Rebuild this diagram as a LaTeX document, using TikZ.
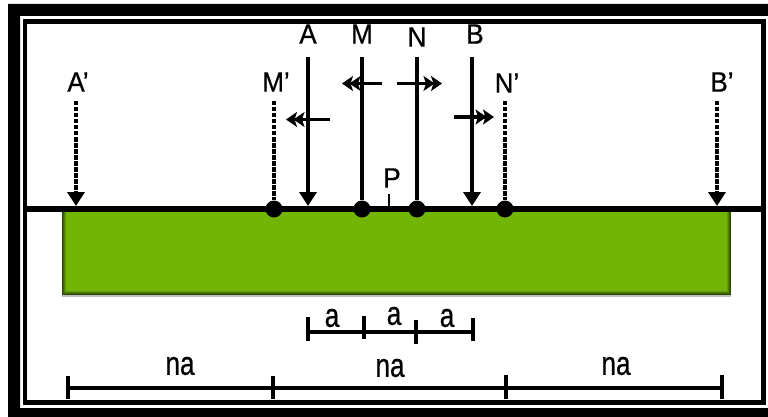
\documentclass[tikz,border=0pt]{standalone}
\usepackage{xcolor}
\usepackage{fontspec}
\setmainfont[FakeBold=0.7]{Liberation Sans}
\usetikzlibrary{arrows,arrows.meta,shapes,positioning,calc}
\definecolor{soil}{HTML}{72B505}

\begin{document}
\begin{tikzpicture}[x=1pt,y=-1pt,>=stealth',semithick]

\tikzstyle{electrode}=[-{Triangle[width=17pt,length=14pt]},line width=3.4pt]
\tikzstyle{wire}=[line width=3.4pt]
\tikzstyle{dashwire}=[line width=3.6pt,dash pattern=on 4.5pt off 1.5pt]
\tikzstyle{flow}=[-{Stealth[width=15pt,length=11pt,inset=2.5pt,sep=-3.5pt] Stealth[width=15pt,length=11pt,inset=2.5pt]},line width=3.6pt]
\tikzstyle{every dot}=[circle,fill=black,draw=none,inner sep=0pt,minimum size=17pt]
\tikzstyle{upper}=[inner sep=0pt,font=\fontsize{28}{30}\selectfont,xscale=.93,transform shape]
\tikzstyle{lower}=[inner sep=0pt,font=\fontsize{29}{30}\selectfont,xscale=.9,yscale=1.15,transform shape]
\tikzstyle{tick}=[line width=3.6pt]
\tikzstyle{span}=[line width=3.4pt]

\useasboundingbox (0,0) rectangle (768,417);
\fill[white] (0,0) rectangle (768,417);

%frame
\fill[black] (8,4) rectangle (768,16) (8,4) rectangle (20,417) (8,408) rectangle (768,417);
\draw[black,line width=4.5pt] (25,21.5) rectangle (763.5,402.5);

%ground
\fill[black!25] (62,212) rectangle (731,297);
\foreach \d/\c in {0/40,1/55,2/70,3/85,4/100}
  \fill[soil!\c!black] (62+\d,212) rectangle (731-\d,295-\d);
\coordinate (gl) at (26,209);
\coordinate (gr) at (762,209);
\draw[line width=6pt] (gl) -- (gr);

%points on the surface
\node[every dot] (Mq) at (274,209) {};
\node[every dot] (Mg) at (362,209) {};
\node[every dot] (Ng) at (417,209) {};
\node[every dot] (Nq) at (505,209) {};
\coordinate (Ag) at (308,206);
\coordinate (Bg) at (472,206);
\coordinate (Aqg) at (76,206);
\coordinate (Bqg) at (717,206);
\coordinate (Pg) at (389,206);

%labels
\node[upper] (A) at (308,34) {A};
\node[upper] (M) at (362,34) {M};
\node[upper] (N) at (417,37) {N};
\node[upper] (B) at (475,34) {B};
\node[upper] (Aq) at (78,82) {A'};
\node[upper] (Mq lab) at (276,82) {M'};
\node[upper] (Nq lab) at (507,83) {N'};
\node[upper] (Bq) at (722,82) {B'};
\node[upper] (P) at (392,178) {P};

%electrodes
\coordinate (At) at (308,57);
\coordinate (Mt) at (362,57);
\coordinate (Nt) at (417,57);
\coordinate (Bt) at (472,57);
\draw[electrode] (At) -- (Ag);
\draw[wire] (Mt) -- (Mg);
\draw[wire] (Nt) -- (Ng);
\draw[electrode] (Bt) -- (Bg);

%shifted positions
\coordinate (Aqt) at (76,101);
\coordinate (Mqt) at (274,101);
\coordinate (Nqt) at (505,101);
\coordinate (Bqt) at (717,101);
\draw[dashwire,-{Triangle[width=17pt,length=14pt]}] (Aqt) -- (Aqg);
\draw[dashwire] (Mqt) -- (Mq);
\draw[dashwire,line width=4.4pt] (Nqt) -- (Nq);
\draw[dashwire,-{Triangle[width=17pt,length=14pt]}] (Bqt) -- (Bqg);

%P mark
\coordinate (Pt) at (389,194);
\draw[line width=2pt] (Pt) -- (Pg);

%shift arrows
\coordinate (f1) at (330,119.5);
\coordinate (f2) at (286,119.5);
\coordinate (f3) at (382,83.5);
\coordinate (f4) at (342,83.5);
\coordinate (f5) at (397,83.5);
\coordinate (f6) at (442,83.5);
\coordinate (f7) at (454,117);
\coordinate (f8) at (494,117);
\draw[flow] (f1) -- (f2);
\draw[flow] (f3) -- (f4);
\draw[flow] (f5) -- (f6);
\draw[flow] (f7) -- (f8);

%spacing a
\foreach \t/\x/\u/\v in {a1/308/317/341,a2/364/316/339,a3/416/320/344,a4/473/318/341}{
  \coordinate (\t u) at (\x,\u);
  \coordinate (\t v) at (\x,\v);
  \coordinate (\t) at (\x,332);
  \draw[tick] (\t u) -- (\t v);
}
\draw[span] (a1) -- (a2);
\draw[span] (a2) -- (a3);
\draw[span] (a3) -- (a4);
\node[lower] (la1) at (332,318) {a};
\node[lower] (la2) at (394,316) {a};
\node[lower] (la3) at (447,318) {a};

%spacing na
\foreach \t/\x/\u/\v in {n1/68/376/399,n2/273/376/399,n3/506/375/399,n4/722/375/399}{
  \coordinate (\t u) at (\x,\u);
  \coordinate (\t v) at (\x,\v);
  \coordinate (\t) at (\x,388);
  \draw[tick] (\t u) -- (\t v);
}
\draw[span] (n1) -- (n2);
\draw[span] (n2) -- (n3);
\draw[span] (n3) -- (n4);
\node[lower] (ln1) at (180,366) {na};
\node[lower] (ln2) at (390,368) {na};
\node[lower] (ln3) at (616,366) {na};

\end{tikzpicture}
\end{document}
